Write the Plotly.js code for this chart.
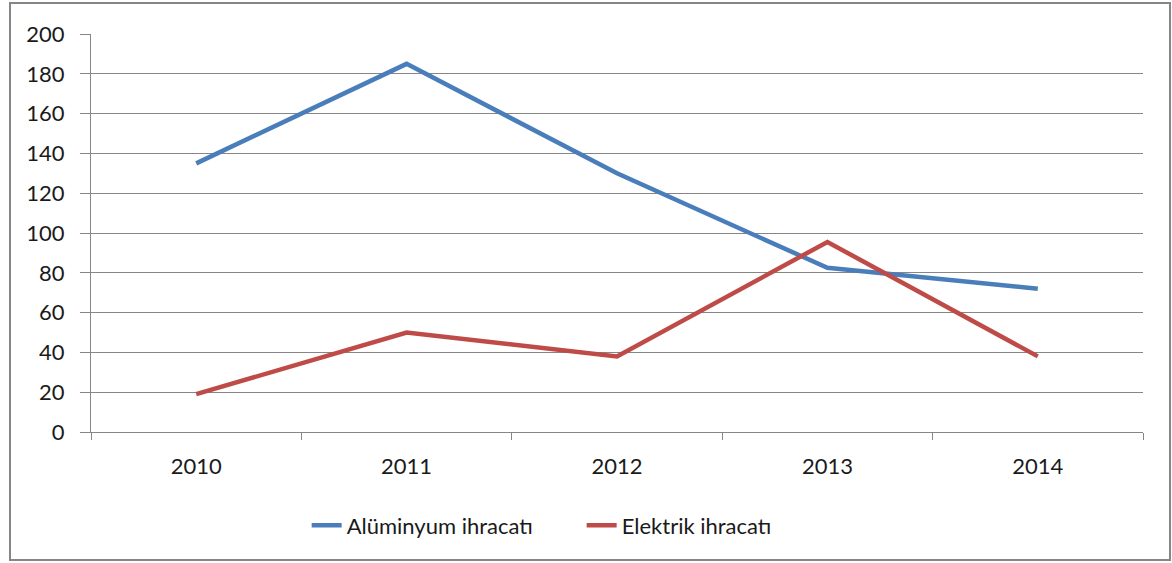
<!DOCTYPE html>
<html><head><meta charset="utf-8">
<script src="https://cdn.plot.ly/plotly-3.0.1.min.js"></script>
<style>html,body{margin:0;padding:0;background:#fff}#chart{width:1172px;height:563px}</style>
</head><body><div id="chart"></div>
<script>
const years = ['2010','2011','2012','2013','2014'];
const aluminyum = [135, 185, 130, 82.5, 72];
const elektrik = [19, 50, 38, 95.5, 38];
const seriesNames = ['Alüminyum ihracatı', 'Elektrik ihracatı'];

const font = {family: 'Lato, "Noto Sans", sans-serif', size: 22, color: '#1a1a1a'};
const traces = [
  {x: years, y: aluminyum, name: seriesNames[0], type: 'scatter', mode: 'lines',
   line: {color: '#4A7EBB', width: 4.5}},
  {x: years, y: elektrik, name: seriesNames[1], type: 'scatter', mode: 'lines',
   line: {color: '#BE4B48', width: 4.5}}
];
const layout = {
  width: 1172, height: 563,
  margin: {l: 91, r: 29, t: 34, b: 131},
  paper_bgcolor: '#fff', plot_bgcolor: '#fff',
  font: font,
  showlegend: true,
  legend: {orientation: 'h', x: 0.205, xanchor: 'left', y: -0.235, yanchor: 'middle',
           font: {family: font.family, size: 22, color: '#1a1a1a'},
           entrywidth: 230, entrywidthmode: 'pixels'},
  xaxis: {type: 'category', range: [-0.5, 4.5], showgrid: false, showline: true,
          linecolor: '#868686', linewidth: 1, ticks: 'outside', tickson: 'boundaries',
          ticklen: 7, tickcolor: '#868686', ticklabelstandoff: 15, zeroline: false,
          tickfont: font},
  yaxis: {range: [0, 200], dtick: 20, showgrid: true, gridcolor: '#868686', gridwidth: 1,
          showline: true, linecolor: '#868686', ticks: 'outside', ticklen: 10,
          tickcolor: '#868686', zeroline: false, ticklabelstandoff: 11, tickfont: font},
  shapes: [{type: 'rect', xref: 'paper', yref: 'paper',
            x0: -81/1052, x1: 1.0 + 27/1052, y0: -128/398, y1: 1 + 31/398,
            line: {color: '#868686', width: 2}, fillcolor: 'rgba(0,0,0,0)'}]
};
Plotly.newPlot('chart', traces, layout, {displayModeBar: false, staticPlot: true});
</script></body></html>
